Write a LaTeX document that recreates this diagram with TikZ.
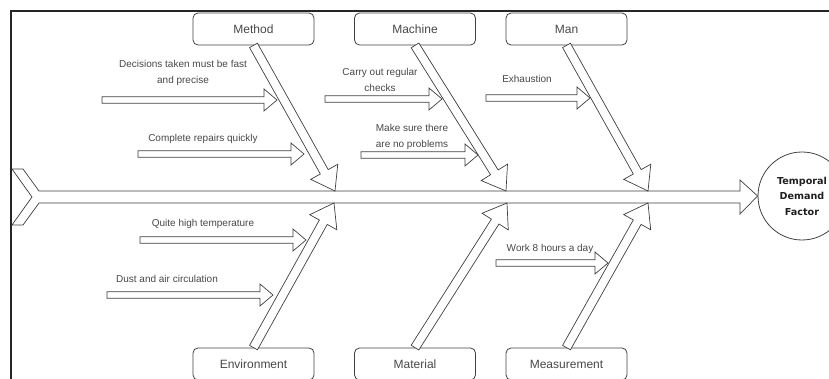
\documentclass[tikz,border=0pt]{standalone}
\usepackage{fontspec}
\setmainfont{Liberation Sans}
\newfontfamily\effectfont{DejaVu Sans}
\usetikzlibrary{calc}

% hollow (outlined) arrow: from, to, shaft half width, head half width, head length
\newcommand{\hollowarrow}[5]{%
  \path let \p1=(#1), \p2=(#2) in
    \pgfextra{\pgfmathsetmacro{\harang}{atan2(\y2-\y1,\x2-\x1)}%
              \pgfmathsetmacro{\harlen}{veclen(\x2-\x1,\y2-\y1)}%
              \xdef\harang{\harang}\xdef\harlen{\harlen}};
  \draw[arrowline, shift={(#1)}, rotate=\harang]
    (0pt,-#3) -- ({\harlen pt-#5},-#3) -- ({\harlen pt-#5},-#4) -- (\harlen pt,0pt)
    -- ({\harlen pt-#5},#4) -- ({\harlen pt-#5},#3) -- (0pt,#3) -- cycle;
}

\begin{document}
\begin{tikzpicture}[x=1pt, y=-1pt,
    every node/.style={font=\fontsize{10}{16}\selectfont, text=black!72, align=center},
    catbox/.style={rectangle, rounded corners=5pt, draw=black!75, line width=0.8pt,
                   minimum width=121pt, minimum height=32pt, font=\fontsize{12}{14}\selectfont},
    effect/.style={circle, draw=black!75, line width=0.8pt, minimum size=88pt, inner sep=0pt,
                   font=\effectfont\bfseries\fontsize{9.6}{15.5}\selectfont, text=black!88},
    arrowline/.style={draw=black!75, fill=white, line width=0.7pt, line join=miter}
  ]
    \useasboundingbox (0,0) rectangle (829,379);
    \draw[line width=1.2pt, black!85] (11,379) -- (11,11) -- (829,11);

    % effect and spine
    \node[effect] (effect) at (802,196) {Temporal\\Demand\\Factor};
    \coordinate (tail) at (12,169);
    \draw[arrowline] (tail) -- (23,169) -- (39,191) -- (740,191) -- (740,180) -- (effect.west)
      -- (740,214) -- (740,203) -- (39,203) -- (23,225) -- (12,225) -- (32,197) -- cycle;

    % categories
    \node[catbox] (method) at (253.5,29) {Method};
    \node[catbox] (machine) at (415,29) {Machine};
    \node[catbox] (man) at (566.5,29) {Man};
    \node[catbox] (environment) at (253.5,364) {Environment};
    \node[catbox] (material) at (415,364) {Material};
    \node[catbox] (measurement) at (566.5,364) {Measurement};

    \coordinate (method-tip) at (335,191);
    \coordinate (machine-tip) at (506,191);
    \coordinate (man-tip) at (648,191);
    \coordinate (environment-tip) at (334,203);
    \coordinate (material-tip) at (507,203);
    \coordinate (measurement-tip) at (648,203);

    \hollowarrow{method.south}{method-tip}{4.5pt}{15.5pt}{22pt}
    \hollowarrow{machine.south}{machine-tip}{4.5pt}{15.5pt}{22pt}
    \hollowarrow{man.south}{man-tip}{4.5pt}{15.5pt}{22pt}
    \hollowarrow{environment.north}{environment-tip}{4.5pt}{15.5pt}{22pt}
    \hollowarrow{material.north}{material-tip}{4.5pt}{15.5pt}{22pt}
    \hollowarrow{measurement.north}{measurement-tip}{4.5pt}{15.5pt}{22pt}

    % Method causes
    \node (decide) at (183,73) {Decisions taken must be fast\\and precise};
    \coordinate (decide-s) at (102,100);
    \coordinate (decide-e) at (277,100);
    \hollowarrow{decide-s}{decide-e}{3.3pt}{11pt}{13pt}
    \node (repair) at (203,139) {Complete repairs quickly};
    \coordinate (repair-s) at (138,154);
    \coordinate (repair-e) at (304,154);
    \hollowarrow{repair-s}{repair-e}{3.3pt}{11pt}{13pt}

    % Machine causes
    \node (checks) at (380,80) {Carry out regular\\checks};
    \coordinate (checks-s) at (325,99);
    \coordinate (checks-e) at (442,99);
    \hollowarrow{checks-s}{checks-e}{3.3pt}{11pt}{13pt}
    \node (problems) at (412,137) {Make sure there\\are no problems};
    \coordinate (problems-s) at (361,155);
    \coordinate (problems-e) at (478,155);
    \hollowarrow{problems-s}{problems-e}{3.3pt}{11pt}{13pt}

    % Man causes
    \node (exhaust) at (527,79) {Exhaustion};
    \coordinate (exhaust-s) at (486,98);
    \coordinate (exhaust-e) at (590,98);
    \hollowarrow{exhaust-s}{exhaust-e}{3.3pt}{11pt}{13pt}

    % Environment causes
    \node (temp) at (203,224) {Quite high temperature};
    \coordinate (temp-s) at (140,240);
    \coordinate (temp-e) at (306,240);
    \hollowarrow{temp-s}{temp-e}{3.3pt}{11pt}{13pt}
    \node (dust) at (167,279) {Dust and air circulation};
    \coordinate (dust-s) at (107,295);
    \coordinate (dust-e) at (273,295);
    \hollowarrow{dust-s}{dust-e}{3.3pt}{11pt}{13pt}

    % Measurement causes
    \node (work) at (550,249) {Work 8 hours a day};
    \coordinate (work-s) at (496,263);
    \coordinate (work-e) at (608,263);
    \hollowarrow{work-s}{work-e}{3.3pt}{11pt}{13pt}
\end{tikzpicture}
\end{document}
